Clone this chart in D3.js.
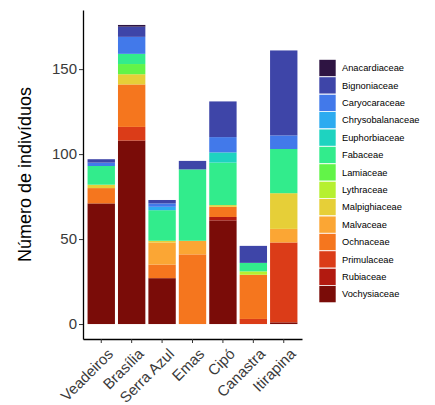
<!DOCTYPE html>
<html>
<head>
<meta charset="utf-8">
<script src="https://cdn.jsdelivr.net/npm/d3@7"></script>
<style>
  body { margin: 0; background: #fff; }
  svg { display: block; font-family: "Liberation Sans", Arial, sans-serif; }
</style>
</head>
<body>
<svg id="chart_svg" width="435" height="405"></svg>
<script>
// Sites (x categories)
var sites = ["Veadeiros", "Brasília", "Serra Azul", "Emas", "Cipó", "Canastra", "Itirapina"];

// Families, legend order (top of stack first)
var families = ["Anacardiaceae", "Bignoniaceae", "Caryocaraceae", "Chrysobalanaceae",
    "Euphorbiaceae", "Fabaceae", "Lamiaceae", "Lythraceae", "Malpighiaceae",
    "Malvaceae", "Ochnaceae", "Primulaceae", "Rubiaceae", "Vochysiaceae"];

// Number of individuals per family, one value per site
var anacardiaceae    = [0, 1, 0, 0, 0, 0, 0];
var bignoniaceae     = [2, 6, 2, 5, 21, 10, 50];
var caryocaraceae    = [2, 10, 2, 0, 9, 0, 8];
var chrysobalanaceae = [0, 0, 2, 0, 0, 0, 0];
var euphorbiaceae    = [0, 0, 0, 0, 6, 0, 0];
var fabaceae         = [11, 6, 18, 42, 25, 5, 26];
var lamiaceae        = [0, 6, 0, 0, 0, 0, 0];
var lythraceae       = [0, 0, 0, 0, 0, 2, 0];
var malpighiaceae    = [2, 6, 1, 0, 1, 0, 21];
var malvaceae        = [0, 0, 13, 8, 0, 0, 8];
var ochnaceae        = [9, 25, 8, 41, 6, 26, 0];
var primulaceae      = [0, 8, 0, 0, 0, 3, 47];
var rubiaceae        = [0, 0, 0, 0, 2, 0, 0];
var vochysiaceae     = [71, 108, 27, 0, 61, 0, 1];

// Y axis ticks
var yTicks = [0, 50, 100, 150];

var familyValues = [anacardiaceae, bignoniaceae, caryocaraceae, chrysobalanaceae,
    euphorbiaceae, fabaceae, lamiaceae, lythraceae, malpighiaceae,
    malvaceae, ochnaceae, primulaceae, rubiaceae, vochysiaceae];

// turbo-like palette
var palette = ["#2e1442", "#3e45a8", "#4279ea", "#2dabf0", "#1ed3c0", "#32ec8c", "#62f448",
    "#b6f030", "#e6cf38", "#fba634", "#f5761e", "#db3c18", "#b21a10", "#7a0c08"];

document.addEventListener("DOMContentLoaded", function() {
    var svg = d3.select("#chart_svg");

    // panel edges
    var left = 83, right = 302, top = 10, bottom = 339;

    // build table for d3.stack
    var table = sites.map(function(s, i) {
        var row = { site: s };
        families.forEach(function(f, j) { row[f] = familyValues[j][i]; });
        return row;
    });

    // bottom of stack is the last family
    var stackKeys = families.slice().reverse();
    var series = d3.stack().keys(stackKeys)(table);

    var maxTotal = d3.max(series[series.length - 1], function(d) { return d[1]; });
    var pad = maxTotal * 0.05;

    var xScale = d3.scaleBand()
        .domain(sites)
        .range([left, right])
        .paddingInner(0.1)
        .paddingOuter(0.15);

    var yScale = d3.scaleLinear()
        .domain([-pad, maxTotal + pad])
        .range([bottom, top]);

    var color = d3.scaleOrdinal()
        .domain(families)
        .range(palette);

    // Bars
    svg.append("g")
        .selectAll("g")
        .data(series)
        .enter()
        .append("g")
            .attr("fill", function(d) { return color(d.key); })
        .selectAll("rect")
        .data(function(d) { return d; })
        .enter()
        .append("rect")
            .attr("x", function(d) { return xScale(d.data.site); })
            .attr("width", xScale.bandwidth())
            .attr("y", function(d) { return yScale(d[1]); })
            .attr("height", function(d) { return yScale(d[0]) - yScale(d[1]); });

    // Y axis
    var yAxis = svg.append("g")
        .attr("transform", "translate(" + left + ",0)")
        .call(d3.axisLeft(yScale).tickValues(yTicks).tickSize(4).tickSizeOuter(0).tickPadding(2));
    yAxis.selectAll("text")
        .style("font-size", "15px")
        .style("fill", "#3a3a3a");

    // X axis
    var xAxis = svg.append("g")
        .attr("transform", "translate(0," + bottom + ")")
        .call(d3.axisBottom(xScale).tickSize(4).tickSizeOuter(0));
    xAxis.selectAll("text")
        .style("font-size", "15px")
        .style("fill", "#3a3a3a")
        .attr("text-anchor", "end")
        .attr("dy", null)
        .attr("y", null)
        .attr("transform", "translate(5,8) rotate(-45)")
        .attr("dominant-baseline", "hanging");

    svg.selectAll(".domain").attr("stroke", "#000").attr("stroke-width", 1.3);
    svg.selectAll(".tick line").attr("stroke", "#333");

    // Y title
    svg.append("text")
        .attr("transform", "translate(31," + ((top + bottom) / 2) + ") rotate(-90)")
        .attr("text-anchor", "middle")
        .style("font-size", "18px")
        .style("fill", "#000")
        .text("Número de indivíduos");

    // Legend
    var legendTop = 59.5, step = 17.4;
    var legend = svg.append("g")
        .selectAll("g")
        .data(families)
        .enter()
        .append("g")
            .attr("transform", function(d, i) { return "translate(319," + (legendTop + i * step) + ")"; });

    legend.append("rect")
        .attr("width", 17)
        .attr("height", 17)
        .attr("fill", function(d) { return color(d); })
        .attr("stroke", "#fff")
        .attr("stroke-width", 0.6);

    legend.append("text")
        .attr("x", 23)
        .attr("y", 8.5)
        .attr("dy", "0.35em")
        .style("font-size", "9.3px")
        .style("fill", "#000")
        .text(function(d) { return d; });
});
</script>
</body>
</html>
